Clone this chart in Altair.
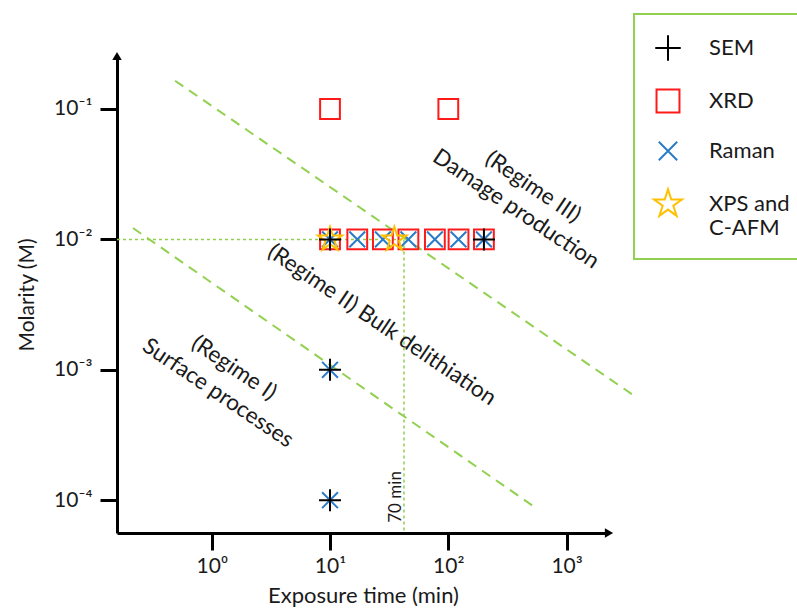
import altair as alt
import pandas as pd

# ---- data ----
X_DOMAIN = [0.1583, 2282.0]
Y_DOMAIN = [5.603e-5, 0.2549]

methods = ["SEM", "XRD", "Raman", "XPS and C-AFM"]
method_colors = ["#000000", "#FF1A1A", "#2A7CC8", "#FFC000"]
method_shapes = [
    "M-1,0H1M0,-1V1",
    "M-0.9,-0.9H0.9V0.9H-0.9Z",
    "M-0.72,-0.72L0.72,0.72M-0.72,0.72L0.72,-0.72",
    "M0,-1.15L0.258,-0.355L1.094,-0.355L0.417,0.136L0.676,0.930L0,0.439L-0.676,0.930L-0.417,0.136L-1.094,-0.355L-0.258,-0.355Z",
]

row_times = [10, 17, 28, 46, 77, 122, 200]

xrd_x = [10, 100] + row_times
xrd_y = [0.1, 0.1] + [0.01] * len(row_times)
raman_x = row_times + [10, 10]
raman_y = [0.01] * len(row_times) + [0.001, 0.0001]
xps_x = [10, 35]
xps_y = [0.01, 0.01]
sem_x = [10, 200, 10, 10]
sem_y = [0.01, 0.01, 0.001, 0.0001]

# regime boundary lines (dashed)
line1_x = [0.490, 3863.0]
line1_y = [0.1648, 6.18e-4]
line2_x = [0.216, 551.0]
line2_y = [0.01222, 8.71e-5]

# guide lines (dotted)
t70 = 42.2
guide_h_x = [X_DOMAIN[0], t70]
guide_h_y = [0.01, 0.01]
guide_v_x = [t70, t70]
guide_v_y = [0.01, Y_DOMAIN[0]]

# annotations
ann_text = ["(Regime III)", "Damage production", "(Regime II) Bulk delithiation",
            "(Regime I)", "Surface processes", "70 min"]
ann_x = [520, 373, 27.5, 1.543, 1.131, 36.1]
ann_y = [0.02523, 0.01710, 0.002208, 0.001033, 0.000664, 0.0001059]
ann_angle = [34, 34, 34, 34, 34, 270]
ann_size = [22.5, 22.5, 22.5, 22.5, 22.5, 17]

# ---- tables ----
pts = pd.DataFrame({
    "t": xrd_x + raman_x + xps_x + sem_x,
    "m": xrd_y + raman_y + xps_y + sem_y,
    "method": ["XRD"] * len(xrd_x) + ["Raman"] * len(raman_x)
              + ["XPS and C-AFM"] * len(xps_x) + ["SEM"] * len(sem_x),
})
pts["order"] = range(len(pts))

regime = pd.DataFrame({
    "t": line1_x + line2_x,
    "m": line1_y + line2_y,
    "id": ["a", "a", "b", "b"],
})
guides = pd.DataFrame({
    "t": guide_h_x + guide_v_x,
    "m": guide_h_y + guide_v_y,
    "id": ["h", "h", "v", "v"],
})
ann = pd.DataFrame({"text": ann_text, "t": ann_x, "m": ann_y,
                    "angle": ann_angle, "fs": ann_size})
arrow_r = pd.DataFrame({"t": [X_DOMAIN[1]], "m": [Y_DOMAIN[0]]})
arrow_u = pd.DataFrame({"t": [X_DOMAIN[0]], "m": [Y_DOMAIN[1]]})

sup = ("'10' + replace(replace(replace(replace(replace(replace(''+round(log(datum.value)/LN10),"
       "'-','⁻'),'0','⁰'),'1','¹'),'2','²'),'3','³'),'4','⁴')")

xscale = alt.Scale(type="log", domain=X_DOMAIN, nice=False)
yscale = alt.Scale(type="log", domain=Y_DOMAIN, nice=False)

TXT = "#1a1a1a"

xenc = alt.X("t:Q", scale=xscale, axis=alt.Axis(
    title="Exposure time (min)", values=[1, 10, 100, 1000], labelExpr=sup,
    grid=False, domainColor="black", domainWidth=3, tickColor="black",
    tickWidth=3, tickSize=17, labelFontSize=21, labelPadding=5,
    titleFontSize=22, titleFontWeight="normal", titlePadding=9,
    labelColor=TXT, titleColor=TXT))
yenc = alt.Y("m:Q", scale=yscale, axis=alt.Axis(
    title="Molarity (M)", values=[0.1, 0.01, 0.001, 0.0001], labelExpr=sup,
    grid=False, domainColor="black", domainWidth=3, tickColor="black",
    tickWidth=3, tickSize=17, labelFontSize=21, labelPadding=8,
    titleFontSize=21, titleFontWeight="normal", titlePadding=16,
    labelColor=TXT, titleColor=TXT))

GREEN = "#92D050"

regime_layer = alt.Chart(regime).mark_line(
    color=GREEN, strokeWidth=2, strokeDash=[10, 7], clip=False
).encode(x=xenc, y=yenc, detail="id:N")

guide_layer = alt.Chart(guides).mark_line(
    color=GREEN, strokeWidth=1.5, strokeDash=[3, 3], clip=False
).encode(x=xenc, y=yenc, detail="id:N")

legend = alt.Legend(
    title=None, orient="none", legendX=517, legendY=-42,
    strokeColor=GREEN, padding=20, rowPadding=20,
    symbolSize=650, symbolStrokeWidth=2, labelFontSize=22, labelOffset=27,
    labelColor=TXT, labelFont="Lato",
    labelExpr="datum.label == 'XPS and C-AFM' ? ['XPS and', 'C-AFM'] : datum.label",
)

point_layer = alt.Chart(pts).mark_point(
    filled=False, strokeWidth=2, size=484, opacity=1, clip=False
).encode(
    x=xenc, y=yenc,
    color=alt.Color("method:N", scale=alt.Scale(domain=methods, range=method_colors), legend=legend),
    shape=alt.Shape("method:N", scale=alt.Scale(domain=methods, range=method_shapes), legend=legend),
    order=alt.Order("order:Q"),
)

text_layer = alt.Chart(ann).mark_text(
    font="Lato", color=TXT, align="center", baseline="middle"
).encode(
    x=xenc, y=yenc, text="text:N",
    angle=alt.Angle("angle:Q", scale=None),
    size=alt.Size("fs:Q", scale=None),
)

arrow_r_layer = alt.Chart(arrow_r).mark_point(
    filled=True, color="black", size=90, opacity=1, clip=False, shape="triangle-right"
).encode(x=xenc, y=yenc)
arrow_u_layer = alt.Chart(arrow_u).mark_point(
    filled=True, color="black", size=90, opacity=1, clip=False, shape="triangle-up"
).encode(x=xenc, y=yenc)

chart = alt.layer(
    regime_layer, guide_layer, point_layer, text_layer, arrow_r_layer, arrow_u_layer
).properties(
    width=492, height=477,
    autosize=alt.AutoSizeParams(type="none"),
    padding={"left": 117, "top": 56, "right": 188, "bottom": 75},
).configure(font="Lato").configure_view(stroke=None).configure_legend(strokeWidth=2)

chart.save("out.html", embed_options={"renderer": "svg", "actions": False})
